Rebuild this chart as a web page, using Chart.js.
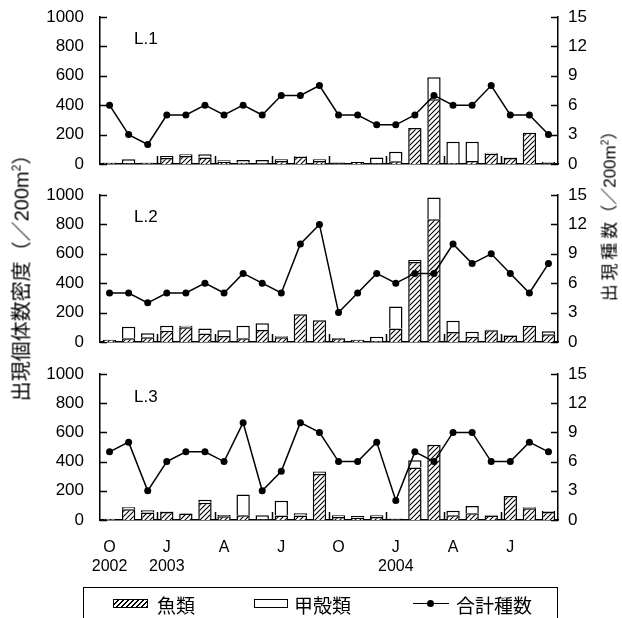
<!DOCTYPE html>
<html lang="ja">
<head>
<meta charset="utf-8">
<title>出現個体数密度と出現種数</title>
<script src="https://cdn.jsdelivr.net/npm/chart.js@4.4.0/dist/chart.umd.min.js"></script>
<style>
  html, body { margin: 0; padding: 0; background: #fff; overflow: hidden; }
  #wrap { position: relative; width: 622px; height: 618px; color: #000;
          font-family: "Liberation Sans", "Noto Sans CJK JP", sans-serif; }
  .panel { position: absolute; left: 0; width: 622px; }
  .panel-label { position: absolute; left: 134px; font-size: 17px; line-height: 1; }
  .ytitle { position: absolute; white-space: nowrap; line-height: 1;
            transform: translate(-50%, -50%) rotate(-90deg);
            font-family: "Noto Sans CJK JP", sans-serif; }
  .ytitle sup { font-size: 60%; vertical-align: 0.7em; line-height: 0; font-family: "Liberation Sans", sans-serif; }
  .ytitle .num { font-family: "Liberation Sans", sans-serif; }
  #legend { position: absolute; left: 83px; top: 587px; width: 475px; height: 45px;
            border: 1.5px solid #000; box-sizing: border-box; }
  #legend .item { position: absolute; top: 6px; font-size: 19px; line-height: 22px;
                  font-family: "Noto Sans CJK JP", sans-serif; }
  #legend .sw { position: absolute; top: 11px; height: 9px; box-sizing: border-box; }
  .hatch { border: 1px solid #000;
           background: repeating-linear-gradient(-45deg, #000 0 1px, #fff 1px 3.5px); }
  .plain { border: 1.5px solid #000; background: #fff; }
  .ln { border-top: 1.5px solid #000; height: 0 !important; top: 15px !important; }
  .ln i { position: absolute; left: 14px; top: -4.5px; width: 7px; height: 7px; border-radius: 50%; background: #000; }
</style>
</head>
<body>
<div id="wrap">
  <canvas id="c1" class="panel" style="top:0" width="622" height="175"></canvas>
  <canvas id="c2" class="panel" style="top:175px" width="622" height="178"></canvas>
  <canvas id="c3" class="panel" style="top:350px" width="622" height="235"></canvas>

  <div class="panel-label" style="top:30px">L.1</div>
  <div class="panel-label" style="top:208px">L.2</div>
  <div class="panel-label" style="top:388px">L.3</div>

  <div class="ytitle" style="left:21px; top:273px; font-size:20px">出現個体数密度（／<span class="num">200m</span><sup>2</sup>）</div>
  <div class="ytitle" style="left:609px; top:212px; font-size:17px">出 現 種 数（／<span class="num">200m</span><sup>2</sup>）</div>

  <div id="legend">
    <span class="sw hatch" style="left:29px; width:35px"></span>
    <span class="item" style="left:73px">魚類</span>
    <span class="sw plain" style="left:170px; width:34px"></span>
    <span class="item" style="left:210px">甲殻類</span>
    <span class="sw ln" style="left:329px; width:36px"><i></i></span>
    <span class="item" style="left:372px">合計種数</span>
  </div>
</div>

<script>
// Monthly samples, October 2002 to September 2004
const months = ['2002-10', '2002-11', '2002-12', '2003-01', '2003-02', '2003-03',
                '2003-04', '2003-05', '2003-06', '2003-07', '2003-08', '2003-09',
                '2003-10', '2003-11', '2003-12', '2004-01', '2004-02', '2004-03',
                '2004-04', '2004-05', '2004-06', '2004-07', '2004-08', '2004-09'];

// quarterly labels under the bottom panel
const monthLabels = ['O', 'J', 'A', 'J', 'O', 'J', 'A', 'J'];
const yearLabels = ['2002', '2003', '', '', '', '2004', '', ''];

const densityTicks = [0, 200, 400, 600, 800, 1000];
const speciesTicks = [0, 3, 6, 9, 12, 15];

// L.1
const fish1 = [6, 5, 8, 40, 55, 45, 15, 8, 3, 20, 50, 20, 5, 14, 5, 18, 245, 440, 7, 20, 70, 40, 213, 5];
const crus1 = [4, 27, 2, 15, 11, 21, 10, 19, 24, 12, 5, 12, 5, 2, 40, 66, 0, 150, 145, 132, 7, 5, 0, 9];
const species1 = [6, 3, 2, 5, 5, 6, 5, 6, 5, 7, 7, 8, 5, 5, 4, 4, 5, 7, 6, 6, 8, 5, 5, 3];

// L.2
const fish2 = [16, 25, 32, 77, 100, 57, 41, 25, 82, 32, 188, 148, 25, 16, 7, 91, 545, 835, 68, 36, 80, 45, 111, 52];
const crus2 = [0, 79, 27, 34, 11, 34, 39, 86, 45, 7, 0, 0, 0, 0, 29, 150, 13, 148, 77, 34, 4, 3, 0, 21];
const species2 = [5, 5, 4, 5, 5, 6, 5, 7, 6, 5, 10, 12, 3, 5, 7, 6, 7, 7, 10, 8, 9, 7, 5, 8];

// L.3
const fish3 = [8, 73, 52, 55, 44, 118, 25, 32, 5, 30, 30, 315, 20, 15, 20, 5, 360, 515, 32, 46, 30, 164, 80, 55];
const crus3 = [0, 14, 14, 4, 2, 21, 9, 143, 27, 102, 16, 18, 12, 12, 12, 6, 50, 0, 32, 50, 6, 0, 7, 7];
const species3 = [7, 8, 3, 6, 7, 7, 6, 10, 3, 5, 10, 9, 6, 6, 8, 2, 7, 6, 9, 9, 6, 6, 8, 7];

// tick marks on the time axis sit at the quarter boundaries
const quarterEdges = [2.5, 5.5, 8.5, 11.5, 14.5, 17.5, 20.5];

Chart.defaults.font.family = "'Liberation Sans', 'Noto Sans CJK JP', sans-serif";
Chart.defaults.font.size = 16;
Chart.defaults.color = '#000';

function makeHatch(ctx) {
    const c = document.createElement('canvas');
    c.width = 5;
    c.height = 5;
    const g = c.getContext('2d');
    g.fillStyle = '#fff';
    g.fillRect(0, 0, 5, 5);
    g.strokeStyle = '#000';
    g.lineWidth = 1.1;
    g.beginPath();
    g.moveTo(0, 5); g.lineTo(5, 0);
    g.moveTo(-1, 1); g.lineTo(1, -1);
    g.moveTo(4, 6); g.lineTo(6, 4);
    g.stroke();
    return ctx.createPattern(c, 'repeat');
}

// axis ticks drawn pointing into the plot
const inwardTicks = {
    id: 'inwardTicks',
    beforeDatasetsDraw(chart) {
        const { ctx, chartArea, scales } = chart;
        ctx.save();
        ctx.strokeStyle = '#000';
        ctx.lineWidth = 1.5;
        ctx.beginPath();
        densityTicks.forEach(v => {
            const y = Math.round(scales.y.getPixelForValue(v)) + 0.5;
            ctx.moveTo(chartArea.left, y);
            ctx.lineTo(chartArea.left + 7, y);
        });
        speciesTicks.forEach(v => {
            const y = Math.round(scales.y1.getPixelForValue(v)) + 0.5;
            ctx.moveTo(chartArea.right, y);
            ctx.lineTo(chartArea.right - 7, y);
        });
        quarterEdges.forEach(v => {
            const x = Math.round(scales.x.getPixelForValue(v)) + 0.5;
            ctx.moveTo(x, chartArea.bottom);
            ctx.lineTo(x, chartArea.bottom - 8);
        });
        ctx.stroke();
        ctx.restore();
    }
};

// fixed axis sizes so the three panels line up
function fixY(width) {
    return s => {
        s.width = width;
        s.paddingTop = 0;
        s.paddingBottom = 0;
    };
}

function makePanel(canvasId, fish, crus, species, padTop, xHeight, showLabels) {
    const ctx = document.getElementById(canvasId).getContext('2d');
    return new Chart(ctx, {
        type: 'bar',
        data: {
            labels: months,
            datasets: [
                {
                    type: 'line',
                    label: '合計種数',
                    data: species,
                    yAxisID: 'y1',
                    order: 0,
                    borderColor: '#000',
                    borderWidth: 1.5,
                    pointRadius: 3.5,
                    pointBackgroundColor: '#000',
                    pointBorderWidth: 0,
                    tension: 0
                },
                {
                    label: '魚類',
                    data: fish,
                    yAxisID: 'y',
                    stack: 'density',
                    order: 1,
                    backgroundColor: makeHatch(ctx),
                    borderColor: '#000',
                    borderWidth: 1.5,
                    barPercentage: 0.7,
                    categoryPercentage: 1.0
                },
                {
                    label: '甲殻類',
                    data: crus,
                    yAxisID: 'y',
                    stack: 'density',
                    order: 1,
                    backgroundColor: '#fff',
                    borderColor: '#000',
                    borderWidth: 1.5,
                    barPercentage: 0.7,
                    categoryPercentage: 1.0
                }
            ]
        },
        options: {
            responsive: false,
            animation: false,
            layout: { padding: { top: padTop, left: 0, right: 0, bottom: 0 } },
            plugins: {
                legend: { display: false },
                tooltip: { enabled: false }
            },
            scales: {
                x: {
                    stacked: true,
                    offset: true,
                    grid: { display: false, drawTicks: false },
                    border: { color: '#000', width: 1.5 },
                    ticks: {
                        display: showLabels,
                        autoSkip: false,
                        maxRotation: 0,
                        padding: 18,
                        font: { size: 16, lineHeight: 1.2 },
                        callback: (value, index) => index % 3 === 0
                            ? [monthLabels[index / 3], yearLabels[index / 3]]
                            : ''
                    },
                    afterFit: s => { s.height = xHeight; }
                },
                y: {
                    stacked: true,
                    position: 'left',
                    min: 0,
                    max: 1000,
                    afterBuildTicks: s => { s.ticks = densityTicks.map(v => ({ value: v })); },
                    grid: { display: false, drawTicks: false },
                    border: { color: '#000', width: 1.5 },
                    ticks: { padding: 16, font: { size: 17 }, callback: v => String(v) },
                    afterFit: fixY(100)
                },
                y1: {
                    position: 'right',
                    min: 0,
                    max: 15,
                    afterBuildTicks: s => { s.ticks = speciesTicks.map(v => ({ value: v })); },
                    grid: { display: false, drawTicks: false },
                    border: { color: '#000', width: 1.5 },
                    ticks: { padding: 10, font: { size: 17 }, callback: v => String(v) },
                    afterFit: fixY(64)
                }
            }
        },
        plugins: [inwardTicks]
    });
}

makePanel('c1', fish1, crus1, species1, 17, 11, false);
makePanel('c2', fish2, crus2, species2, 20, 11, false);
makePanel('c3', fish3, crus3, species3, 24, 65, true);
</script>
</body>
</html>
